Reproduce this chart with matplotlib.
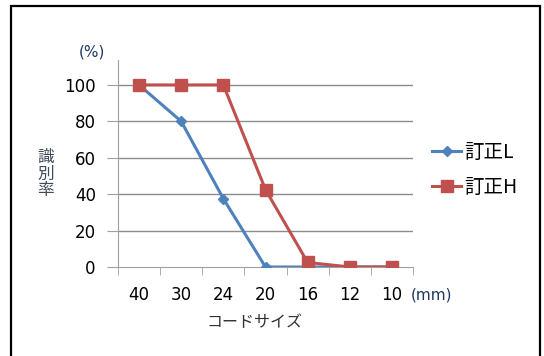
import matplotlib.pyplot as plt
from matplotlib.patches import Rectangle
from matplotlib.lines import Line2D

plt.rcParams['font.family'] = ['DejaVu Sans', 'Noto Sans CJK JP']

# Data
sizes = ['40', '30', '24', '20', '16', '12', '10']
rate_l = [100, 80, 37.5, 0, 0, 0, 0]
rate_h = [100, 100, 100, 42.5, 2.5, 0, 0]
yticks = [0, 20, 40, 60, 80, 100]

blue = '#4F81BD'
red = '#C0504D'
grid = '#8C8C8C'

fig = plt.figure(figsize=(5.44, 3.56), dpi=100)

# outer frame
fig.patches.append(Rectangle((11 / 544, -0.05), 529 / 544, 1.05 - 6 / 356,
                             transform=fig.transFigure, fill=False,
                             edgecolor='black', linewidth=1.6))

ax = fig.add_axes([118 / 544, 1 - 267 / 356, 295 / 544, 207 / 356])
x = list(range(len(sizes)))
ax.plot(x, rate_l, color=blue, linewidth=2.2, marker='D', markersize=5,
        label='訂正L', zorder=3)
ax.plot(x, rate_h, color=red, linewidth=2.2, marker='s', markersize=8,
        label='訂正H', zorder=4)

ax.set_xlim(-0.5, len(sizes) - 0.5)
ax.set_ylim(0, 113.7)
ax.set_yticks(yticks)
ax.set_yticklabels([str(v) for v in yticks], fontsize=12)
ax.set_xticks(x)
ax.set_xticklabels(sizes, fontsize=12)
ax.set_xticks([i - 0.5 for i in range(len(sizes) + 1)], minor=True)

for v in yticks[1:]:
    ax.axhline(v, color=grid, linewidth=1.0, zorder=1)

for s in ['top', 'right']:
    ax.spines[s].set_visible(False)
ax.spines['left'].set_color('#A0A0A0')
ax.spines['bottom'].set_color('#A0A0A0')
ax.tick_params(axis='y', length=8, color='#A0A0A0', pad=8)
ax.tick_params(axis='x', which='major', length=0, pad=14)
ax.tick_params(axis='x', which='minor', length=6, color='#A0A0A0')

fig.text(92 / 544, 1 - 52 / 356, '(%)', fontsize=11, color='#1F3864',
         ha='center', va='center')
fig.text(432 / 544, 1 - 295 / 356, '(mm)', fontsize=11, color='#1F3864',
         ha='center', va='center')
fig.text(254 / 544, 1 - 323 / 356, 'コードサイズ', fontsize=11.5,
         color='#303030', ha='center', va='center', family=['Noto Sans CJK JP'])
fig.text(46 / 544, 1 - 174 / 356, '識\n別\n率', fontsize=12,
         color='#404A5A', ha='center', va='center', linespacing=0.95,
         family=['Noto Sans CJK JP'])

handles = [Line2D([], [], color=blue, linewidth=2.2, marker='D', markersize=5),
           Line2D([], [], color=red, linewidth=2.2, marker='s', markersize=8)]
leg = fig.legend(handles, ['訂正L', '訂正H'], loc='center left',
                 bbox_to_anchor=(432 / 544, 1 - 170 / 356), frameon=False,
                 prop={'family': ['Noto Sans CJK JP'], 'size': 14},
                 handlelength=1.5, handletextpad=0.15, labelspacing=0.75,
                 borderpad=0, borderaxespad=0)

fig.savefig('out.png', dpi=100)
